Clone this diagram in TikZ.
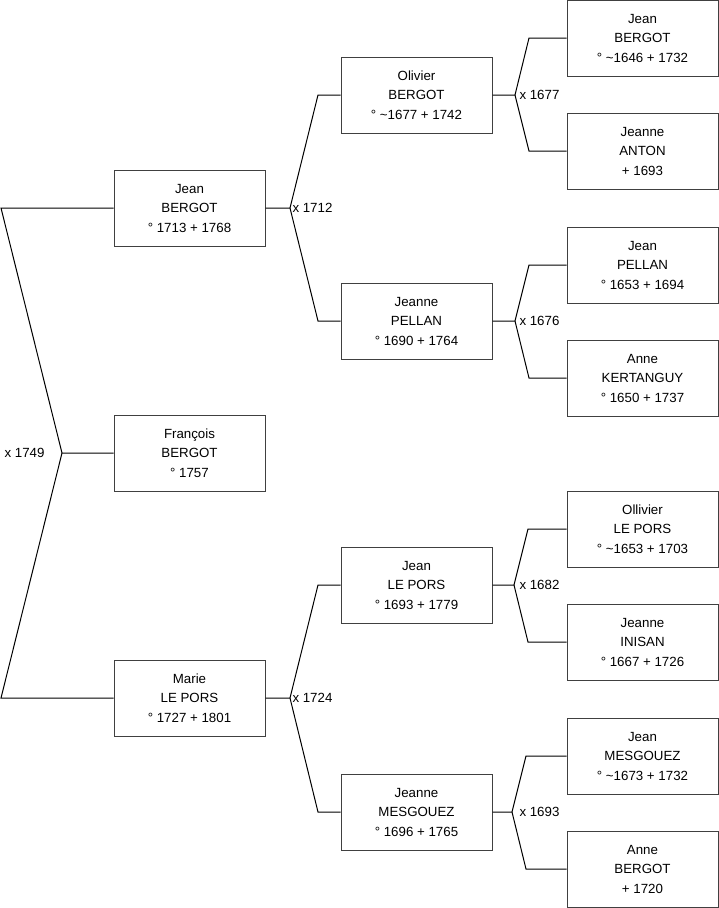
\documentclass[tikz,border=0pt]{standalone}
\usepackage{fontspec}
\setmainfont{Liberation Sans}
\usetikzlibrary{positioning}
\tikzset{
  person/.style={draw=black!75, line width=1pt, minimum width=151pt,
    minimum height=76pt, inner sep=0pt, align=center,
    font=\fontsize{13.3}{19.5}\selectfont},
  wed/.style={font=\fontsize{13.3}{15}\selectfont, inner sep=1pt},
}
\newcommand{\abt}{\textasciitilde}

\begin{document}
\begin{tikzpicture}[x=1pt, y=-1pt, line width=1pt]
  \useasboundingbox (0,0) rectangle (719,908);
  % Child and parents.
  \node[person] (pere) at (189.5,208) {Jean\\BERGOT\\° 1713 + 1768};
  \node[person] (enfant) at (189.5,453) {François\\BERGOT\\° 1757};
  \node[person] (mere) at (189.5,698) {Marie\\LE PORS\\° 1727 + 1801};
  % Grandparents.
  \node[person] (gp1) at (416.5,95) {Olivier\\BERGOT\\° \abt1677 + 1742};
  \node[person] (gp2) at (416.5,321) {Jeanne\\PELLAN\\° 1690 + 1764};
  \node[person] (gp3) at (416.5,585) {Jean\\LE PORS\\° 1693 + 1779};
  \node[person] (gp4) at (416.5,812) {Jeanne\\MESGOUEZ\\° 1696 + 1765};
  % Great-grandparents.
  \node[person] (ag1) at (642.5,38) {Jean\\BERGOT\\° \abt1646 + 1732};
  \node[person] (ag2) at (642.5,151) {Jeanne\\ANTON\\+ 1693};
  \node[person] (ag3) at (642.5,265) {Jean\\PELLAN\\° 1653 + 1694};
  \node[person] (ag4) at (642.5,378) {Anne\\KERTANGUY\\° 1650 + 1737};
  \node[person] (ag5) at (642.5,529) {Ollivier\\LE PORS\\° \abt1653 + 1703};
  \node[person] (ag6) at (642.5,642) {Jeanne\\INISAN\\° 1667 + 1726};
  \node[person] (ag7) at (642.5,756) {Jean\\MESGOUEZ\\° \abt1673 + 1732};
  \node[person] (ag8) at (642.5,869) {Anne\\BERGOT\\+ 1720};

  % Marriage x 1749.
  \coordinate (j0) at (62,453);
  \coordinate (t1) at (1,208);
  \coordinate (t2) at (1,698);
  \draw (pere.west) -- (t1) -- (j0) -- (enfant.west);
  \draw (j0) -- (t2) -- (mere.west);
  \node[wed, anchor=east] (x0) at (46,453) {x 1749};

  % Marriages x 1712 and x 1724.
  \coordinate (j1) at (290,208);
  \coordinate (c1a) at (318,95);
  \coordinate (c1b) at (318,321);
  \draw (pere.east) -- (j1) -- (c1a) -- (gp1.west);
  \draw (j1) -- (c1b) -- (gp2.west);
  \node[wed, anchor=west] (x1) at (291,208) {x 1712};
  \coordinate (j2) at (290,698);
  \coordinate (c2a) at (318,585);
  \coordinate (c2b) at (318,812);
  \draw (mere.east) -- (j2) -- (c2a) -- (gp3.west);
  \draw (j2) -- (c2b) -- (gp4.west);
  \node[wed, anchor=west] (x2) at (291,698) {x 1724};

  % Marriages of the grandparents' parents.
  \coordinate (j3) at (515,95);
  \coordinate (c3a) at (529,38);
  \coordinate (c3b) at (529,151);
  \draw (gp1.east) -- (j3) -- (c3a) -- (ag1.west);
  \draw (j3) -- (c3b) -- (ag2.west);
  \node[wed, anchor=west] (x3) at (518,95) {x 1677};
  \coordinate (j4) at (515,321);
  \coordinate (c4a) at (529,265);
  \coordinate (c4b) at (529,378);
  \draw (gp2.east) -- (j4) -- (c4a) -- (ag3.west);
  \draw (j4) -- (c4b) -- (ag4.west);
  \node[wed, anchor=west] (x4) at (518,321) {x 1676};
  \coordinate (j5) at (514,585);
  \coordinate (c5a) at (528,529);
  \coordinate (c5b) at (528,642);
  \draw (gp3.east) -- (j5) -- (c5a) -- (ag5.west);
  \draw (j5) -- (c5b) -- (ag6.west);
  \node[wed, anchor=west] (x5) at (518,585) {x 1682};
  \coordinate (j6) at (512,812);
  \coordinate (c6a) at (526,756);
  \coordinate (c6b) at (526,869);
  \draw (gp4.east) -- (j6) -- (c6a) -- (ag7.west);
  \draw (j6) -- (c6b) -- (ag8.west);
  \node[wed, anchor=west] (x6) at (518,812) {x 1693};
\end{tikzpicture}
\end{document}
